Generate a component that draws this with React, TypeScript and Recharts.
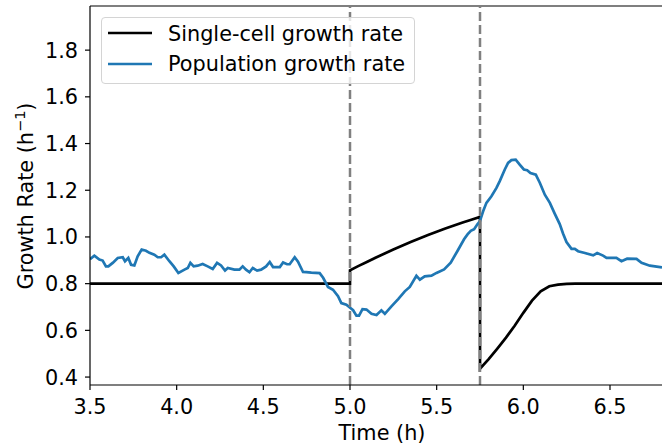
import React from 'react'
import { LineChart, Line, XAxis, YAxis, ReferenceLine, Label } from 'recharts'

// single-cell growth rate (piecewise, jumps at the two shifts)
const cellTime = [
  3.5, 5.0, 5.0, 5.05, 5.1, 5.15, 5.2, 5.25, 5.3, 5.35, 5.4, 5.45, 5.5, 5.55, 5.6, 5.65, 5.7, 5.75,
  5.75, 5.8, 5.85, 5.9, 5.95, 6.0, 6.05, 6.1, 6.15, 6.2, 6.25, 6.3, 6.8
]
const cellRate = [
  0.8, 0.8, 0.857, 0.876, 0.894, 0.912, 0.929, 0.946, 0.962, 0.978, 0.993, 1.008, 1.022, 1.036, 1.049, 1.062, 1.074, 1.086,
  0.436, 0.477, 0.522, 0.569, 0.62, 0.675, 0.727, 0.767, 0.789, 0.796, 0.799, 0.8, 0.8
]

// population growth rate (noisy trace)
const popTime = [
  3.5, 3.525, 3.554, 3.573, 3.592, 3.606, 3.631, 3.66, 3.689, 3.702, 3.721, 3.737, 3.756, 3.775, 3.798, 3.823,
  3.843, 3.871, 3.891, 3.91, 3.929, 3.958, 3.983, 4.01, 4.045, 4.064, 4.079, 4.098, 4.121, 4.15, 4.179, 4.208,
  4.233, 4.256, 4.279, 4.295, 4.333, 4.362, 4.381, 4.4, 4.42, 4.439, 4.464, 4.487, 4.516, 4.537, 4.556, 4.595,
  4.614, 4.637, 4.652, 4.681, 4.7, 4.729, 4.748, 4.777, 4.825, 4.845, 4.873, 4.902, 4.931, 4.95, 4.979, 4.99,
  5.018, 5.037, 5.052, 5.072, 5.095, 5.124, 5.153, 5.181, 5.201, 5.239, 5.278, 5.316, 5.345, 5.383, 5.403, 5.431,
  5.47, 5.499, 5.543, 5.581, 5.62, 5.658, 5.678, 5.697, 5.716, 5.735, 5.749, 5.768, 5.787, 5.816, 5.845, 5.864,
  5.893, 5.912, 5.931, 5.956, 5.979, 6.003, 6.022, 6.041, 6.072, 6.095, 6.124, 6.153, 6.181, 6.21, 6.229, 6.249,
  6.278, 6.297, 6.316, 6.355, 6.403, 6.426, 6.46, 6.48, 6.537, 6.566, 6.599, 6.653, 6.682, 6.73, 6.8
]
const popRate = [
  0.905, 0.92, 0.903, 0.899, 0.874, 0.874, 0.889, 0.91, 0.913, 0.896, 0.91, 0.881, 0.878, 0.917, 0.946, 0.941,
  0.932, 0.924, 0.913, 0.913, 0.924, 0.896, 0.874, 0.846, 0.86, 0.867, 0.889, 0.874, 0.877, 0.884, 0.874, 0.863,
  0.889, 0.878, 0.856, 0.867, 0.86, 0.86, 0.874, 0.86, 0.849, 0.867, 0.856, 0.86, 0.874, 0.893, 0.871, 0.871,
  0.891, 0.883, 0.883, 0.913, 0.894, 0.85, 0.849, 0.847, 0.845, 0.825, 0.786, 0.774, 0.746, 0.717, 0.71, 0.703,
  0.686, 0.663, 0.663, 0.691, 0.689, 0.671, 0.666, 0.686, 0.671, 0.703, 0.734, 0.767, 0.786, 0.834, 0.817, 0.831,
  0.834, 0.846, 0.861, 0.89, 0.94, 0.99, 1.011, 1.026, 1.033, 1.054, 1.067, 1.11, 1.146, 1.174, 1.21, 1.239,
  1.289, 1.317, 1.329, 1.331, 1.31, 1.289, 1.286, 1.274, 1.267, 1.232, 1.181, 1.146, 1.1, 1.055, 1.015, 0.978,
  0.949, 0.949, 0.939, 0.931, 0.921, 0.931, 0.92, 0.91, 0.91, 0.896, 0.907, 0.906, 0.889, 0.877, 0.87
]

const xTicks = [3.5, 4.0, 4.5, 5.0, 5.5, 6.0, 6.5]
const yTicks = [0.4, 0.6, 0.8, 1.0, 1.2, 1.4, 1.6, 1.8]
const shiftTimes = [5.0, 5.75]
const seriesNames = ['Single-cell growth rate', 'Population growth rate']

const cellData = cellTime.map((t, i) => ({ t, v: cellRate[i] }))
const popData = popTime.map((t, i) => ({ t, v: popRate[i] }))

const FONT = "'DejaVu Sans', sans-serif"
const FS = 20.8
const Y_MIN = 0.366
const Y_MAX = 1.989

const YLabel = () => (
  <text
    x={33}
    y={196}
    transform="rotate(-90 33 196)"
    textAnchor="middle"
    fontFamily={FONT}
    fontSize={FS}
    fill="#000"
  >
    Growth Rate (h
    <tspan dy={-8} fontSize={14.5}>−1</tspan>
    <tspan dy={8}>)</tspan>
  </text>
)

// y tick drawn right-aligned just left of the tick mark
const YTick = (props: any) => {
  const { y, payload } = props
  return (
    <text x={78} y={y} dy="0.36em" textAnchor="end" fontFamily={FONT} fontSize={FS} fill="#000">
      {payload.value.toFixed(1)}
    </text>
  )
}

const App = () => {
  return (
    <div style={{ position: 'absolute', left: 0, top: 0, width: 662, height: 446, overflow: 'hidden', background: '#fff' }}>
      <LineChart width={662} height={446} margin={{ top: 6, right: 0, left: 0, bottom: 0 }}>
        <XAxis
          type="number"
          dataKey="t"
          domain={[3.5, 6.8]}
          ticks={xTicks}
          tickFormatter={v => v.toFixed(1)}
          allowDataOverflow
          height={61}
          stroke="#000"
          strokeWidth={1.2}
          tickSize={5}
          tickMargin={9}
          tick={{ fontFamily: FONT, fontSize: FS, fill: '#000' }}
        >
          <Label value="Time (h)" position="insideBottom" offset={6} dx={6} style={{ fontFamily: FONT, fontSize: FS, fill: '#000' }} />
        </XAxis>
        <YAxis
          type="number"
          domain={[Y_MIN, Y_MAX]}
          ticks={yTicks}
          allowDataOverflow
          width={90}
          stroke="#000"
          strokeWidth={1.2}
          tickSize={5}
          tick={<YTick />}
        >
          <Label content={<YLabel />} />
        </YAxis>
        <ReferenceLine y={Y_MAX} stroke="#000" strokeWidth={1.2} />
        <Line
          data={cellData}
          dataKey="v"
          type="linear"
          stroke="#000"
          strokeWidth={2.7}
          dot={false}
          isAnimationActive={false}
        />
        <Line
          data={popData}
          dataKey="v"
          type="linear"
          stroke="#1f77b4"
          strokeWidth={2.7}
          dot={false}
          isAnimationActive={false}
        />
        {shiftTimes.map(t => (
          <ReferenceLine key={t} x={t} stroke="#808080" strokeWidth={2.5} strokeDasharray="9 4" />
        ))}
      </LineChart>
      <div
        style={{
          position: 'absolute',
          left: 101,
          top: 17,
          width: 314,
          height: 67,
          boxSizing: 'border-box',
          border: '1px solid #d4d4d4',
          borderRadius: 4,
          background: 'rgba(255,255,255,0.8)'
        }}
      >
        <svg width={314} height={67} style={{ position: 'absolute', left: -1, top: -1 }}>
          <line x1={7} x2={51} y1={16} y2={16} stroke="#000" strokeWidth={2.7} />
          <text x={67} y={23.5} fontFamily={FONT} fontSize={FS} fill="#000">{seriesNames[0]}</text>
          <line x1={7} x2={51} y1={47} y2={47} stroke="#1f77b4" strokeWidth={2.7} />
          <text x={67} y={54} fontFamily={FONT} fontSize={FS} fill="#000">{seriesNames[1]}</text>
        </svg>
      </div>
    </div>
  )
}

export default App
